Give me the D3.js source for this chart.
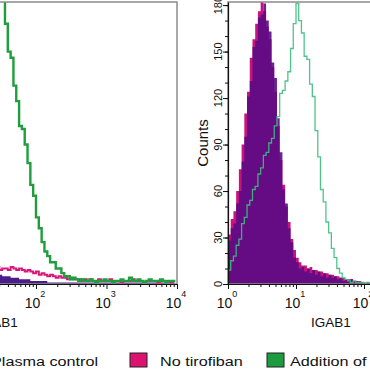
<!DOCTYPE html>
<html>
<head>
<meta charset="utf-8">
<script src="https://d3js.org/d3.v7.min.js"></script>
<style>
  body { margin: 0; padding: 0; background: #fff; }
  svg { display: block; font-family: "Liberation Sans", Arial, Helvetica, sans-serif; }
  .frame { fill: none; stroke: #8c8c8c; stroke-width: 1.5; }
  .axis path { stroke: #111; stroke-width: 1.2; }
  .axis line { stroke: #111; }
  .axis text { display: none; }
</style>
</head>
<body>
<div id="chart"></div>
<script>
// histogram channels: log10(IGAB1) start + bin width
var binStep = 0.04;
var leftStart = 1.40, rightStart = 0;

// left panel (visible part only)
var leftGreen = [230,215,204,184,168,150,146,128,118,102,100,90,78,64,57,43,36,27,21,18,
  14,14,10,10,7,5,5,3,4,3,2,3,2,2,3,2,1,2,2,3,2,2,1,2,2,3,2,2,4,2,2,3,2,1,2,3,2,2,2,3,2,1,2,2,1];
var leftPink = [10,11,9,10,10,9,11,10,9,10,9,8,9,8,7,8,6,7,6,5,6,5,4,5,4,4,3,4,3,3,3,2,3,2,3,
  2,2,3,2,2,2,3,2,2,2,1,2,2,2,3,2,2,2,1,2,2,2,2,1,2,2,2,1,1,1];
var leftPurple = [7,6,6,5,5,5,4,4,4,3,3,3,3,2,2,2,2,2,2,1,1,1,1,1,1,1,1,1,1,1,1,1,1,1,1,
  1,1,1,1,1,1,1,1,1,1,1,1,1,1,1,1,1,1,1,1,1,1,1,1,1,1,1,1,1,1];

// right panel
var rightPlasma = [28,36,39,52,60,79,95,121,131,153,157,172,174,181,170,163,143,133,107,85,
  61,52,36,27,17,14,10,11,8,10,7,9,6,8,5,7,4,6,4,5,3,4,2,3,2,3,1,2,1,1,0,1,0];
var rightNoTirofiban = [32,42,47,60,74,90,110,124,146,158,168,176,182,176,166,158,140,124,102,80,
  64,50,40,29,22,17,14,12,12,10,11,9,9,8,8,7,7,6,6,5,5,4,4,3,3,3,2,2,2,1,1,1,1];
var rightAddition = [9,15,18,25,29,39,43,51,54,61,63,71,75,83,85,91,94,102,108,123,
  125,131,137,152,168,181,170,162,147,145,129,121,99,82,61,53,40,33,23,17,
  10,7,4,3,2,1,2,1,1,1,0,1,1];

var countTicks = [0, 30, 60, 90, 120, 150, 180];
var decadeExps = [0, 1, 2, 3, 4];
var leftLabelExps = [2, 3, 4];
var rightLabelExps = [0, 1, 2];
var legendNames = ["Plasma control", "No tirofiban", "Addition of tirofiban"];
var legendColors = ["#5a1480", "#dc1470", "#1f9b3f"];

var width = 370, height = 370,
    plotTop = 2, plotBottom = 284;

var svg = d3.select("#chart").append("svg")
  .attr("width", width)
  .attr("height", height);

var y = d3.scaleLinear().domain([0, 182]).range([plotBottom, plotTop]);
var xL = d3.scaleLog().domain([1, 1e4]).range([-105, 177]);
var xR = d3.scaleLog().domain([1, 1e4]).range([228, 500]);

var defs = svg.append("defs");
[["clipL", xL], ["clipR", xR]].forEach(function(c) {
  defs.append("clipPath").attr("id", c[0]).append("rect")
    .attr("x", c[1].range()[0]).attr("y", plotTop)
    .attr("width", c[1].range()[1] - c[1].range()[0])
    .attr("height", plotBottom - plotTop);
});

function areaFor(x, start) {
  return d3.area()
    .curve(d3.curveStepAfter)
    .x(function(d, i) { return x(Math.pow(10, start + i * binStep)); })
    .y0(y(0))
    .y1(function(d) { return y(d); });
}
function lineFor(x, start) {
  return d3.line()
    .curve(d3.curveStepAfter)
    .x(function(d, i) { return x(Math.pow(10, start + i * binStep)); })
    .y(function(d) { return y(d); });
}

// ---- left panel ----
var gL = svg.append("g").attr("clip-path", "url(#clipL)");
gL.append("path").datum(leftPurple)
  .attr("d", areaFor(xL, leftStart))
  .style("fill", "#4b1d8c");
gL.append("path").datum(leftPink)
  .attr("d", lineFor(xL, leftStart))
  .style("fill", "none").style("stroke", "#d8167c").style("stroke-width", 2);
gL.append("path").datum(leftGreen)
  .attr("d", lineFor(xL, leftStart))
  .style("fill", "none").style("stroke", "#1e9e3c").style("stroke-width", 2.4);

// ---- right panel ----
var gR = svg.append("g").attr("clip-path", "url(#clipR)");
gR.append("path").datum(rightNoTirofiban)
  .attr("d", areaFor(xR, rightStart))
  .style("fill", "#c8127e");
gR.append("path").datum(rightPlasma)
  .attr("d", areaFor(xR, rightStart))
  .style("fill", "#5a0c86").style("fill-opacity", 0.9);
gR.append("path").datum(rightAddition)
  .attr("d", lineFor(xR, rightStart))
  .style("fill", "none").style("stroke", "#3dbd80").style("stroke-width", 1.3)
  .style("stroke-opacity", 0.9);

// frames
[xL, xR].forEach(function(x) {
  svg.append("rect").attr("class", "frame")
    .attr("x", x.range()[0]).attr("y", plotTop)
    .attr("width", x.range()[1] - x.range()[0])
    .attr("height", plotBottom - plotTop);
});

// x axes: major + minor log ticks
var minorVals = [];
decadeExps.slice(0, 4).forEach(function(e) {
  for (var m = 2; m < 10; m++) minorVals.push(m * Math.pow(10, e));
});
var majorVals = decadeExps.map(function(e) { return Math.pow(10, e); });

[[xL, leftLabelExps], [xR, rightLabelExps]].forEach(function(p) {
  var x = p[0];
  svg.append("g").attr("class", "axis")
    .attr("transform", "translate(0," + plotBottom + ")")
    .call(d3.axisBottom(x).tickValues(majorVals).tickSize(5).tickSizeOuter(0));
  svg.append("g").attr("class", "axis")
    .attr("transform", "translate(0," + plotBottom + ")")
    .call(d3.axisBottom(x).tickValues(minorVals).tickSize(3).tickSizeOuter(0))
    .select(".domain").remove();

  var lab = svg.append("g").selectAll("text")
    .data(p[1])
    .enter().append("text")
    .attr("x", function(d) { return x(Math.pow(10, d)) - 1; })
    .attr("y", 308)
    .attr("text-anchor", "middle")
    .style("font-size", "14px")
    .style("fill", "#111");
  lab.append("tspan").text("10");
  lab.append("tspan").attr("dy", -11).style("font-size", "9px")
    .text(function(d) { return d; });

  svg.append("text")
    .attr("x", x(1) + 103)
    .attr("y", 327)
    .attr("text-anchor", "middle")
    .style("font-size", "13.5px")
    .style("fill", "#111")
    .text("IGAB1");
});

// right y axis
svg.append("g").attr("class", "axis")
  .attr("transform", "translate(" + xR.range()[0] + ",0)")
  .call(d3.axisLeft(y).tickValues(countTicks).tickSize(5).tickSizeOuter(0));
svg.append("g").attr("class", "axis")
  .attr("transform", "translate(" + xR.range()[0] + ",0)")
  .call(d3.axisLeft(y).tickValues(d3.range(10, 181, 10)).tickSize(3).tickSizeOuter(0))
  .select(".domain").remove();

svg.append("g").selectAll("text")
  .data(countTicks)
  .enter().append("text")
  .attr("transform", function(d) { return "translate(222," + y(d) + ") rotate(-90)"; })
  .attr("text-anchor", "middle")
  .style("font-size", "11px")
  .style("fill", "#111")
  .text(function(d) { return d; });

svg.append("text")
  .attr("transform", "translate(208," + ((plotTop + plotBottom) / 2) + ") rotate(-90)")
  .attr("text-anchor", "middle")
  .style("font-size", "15px")
  .style("fill", "#111")
  .text("Counts");

// legend
var swatchX = [-30, 130, 267], textX = [-9, 160, 290];
var leg = svg.append("g").selectAll("g")
  .data(legendNames)
  .enter().append("g");
leg.append("rect")
  .attr("x", function(d, i) { return swatchX[i]; })
  .attr("y", 353)
  .attr("width", 17).attr("height", 14)
  .style("fill", function(d, i) { return legendColors[i]; })
  .style("stroke", "#222").style("stroke-width", 1);
leg.append("text")
  .attr("transform", function(d, i) { return "translate(" + textX[i] + ",366) scale(1.2,1)"; })
  .style("font-size", "13.5px")
  .style("fill", "#111")
  .text(function(d) { return d; });
</script>
</body>
</html>
